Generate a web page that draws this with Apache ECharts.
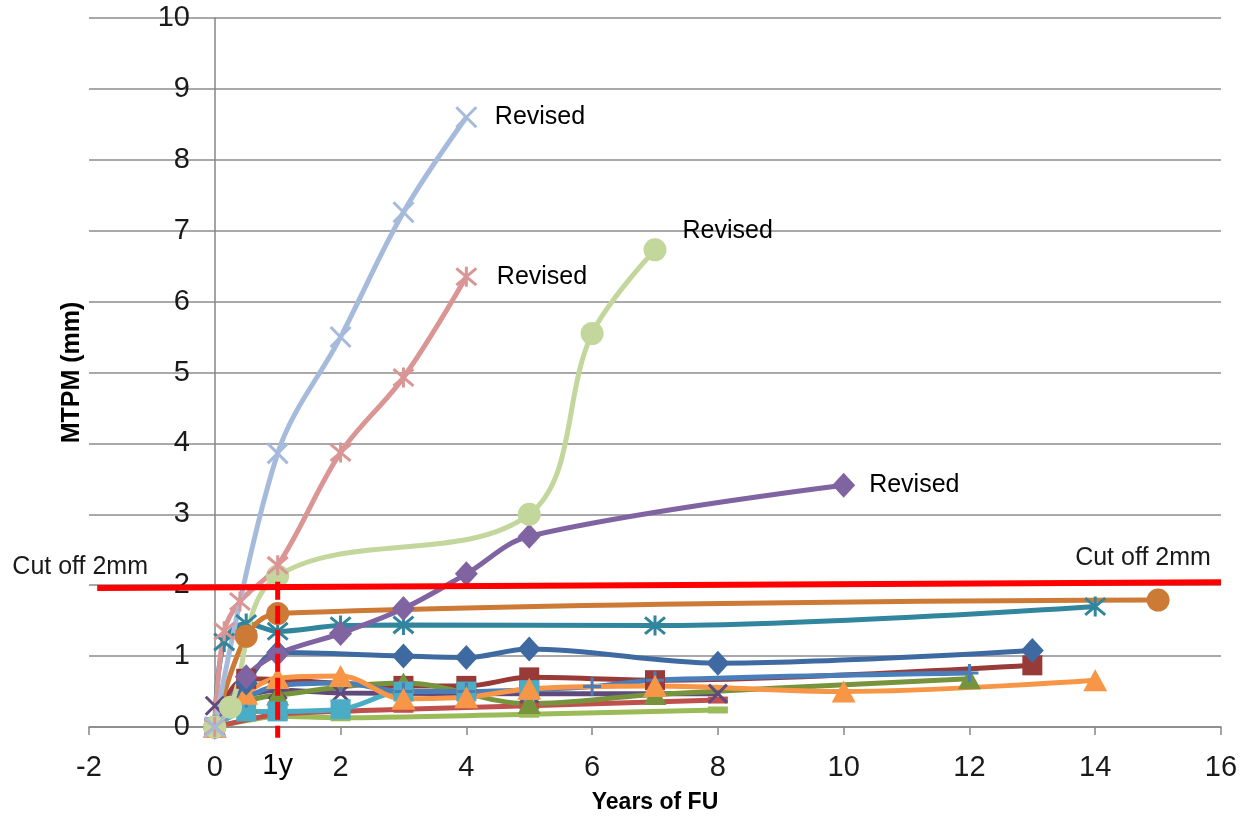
<!DOCTYPE html>
<html>
<head>
<meta charset="utf-8">
<script src="https://cdn.jsdelivr.net/npm/echarts@6/dist/echarts.min.js"></script>
<style>
  html, body { margin: 0; padding: 0; background: #ffffff; }
  #chart { width: 1256px; height: 818px; }
</style>
</head>
<body>
<div id="chart"></div>
<script>
// MTPM (mm) against years of follow-up, one line per implant
const lightBlueX      = [[0,0],[1,3.86],[2,5.5],[3,7.26],[4,8.6]];
const pinkStar        = [[0,0],[0.15,1.35],[0.4,1.77],[1,2.28],[2,3.87],[3,4.93],[4,6.35]];
const lightGreenCircle= [[0,0],[0.25,0.28],[1,2.13],[5,3.0],[6,5.55],[7,6.73]];
const purpleDiamond   = [[0,0],[0.5,0.71],[1,1.03],[2,1.32],[3,1.67],[4,2.16],[5,2.69],[10,3.41]];
const orangeCircle    = [[0,0],[0.5,1.28],[1,1.6],[15,1.79]];
const tealStar        = [[0,0],[0.15,1.2],[0.5,1.46],[1,1.35],[2,1.43],[3,1.44],[7,1.43],[14,1.7]];
const blueDiamond     = [[0,0],[0.5,0.62],[1,1.05],[3,1.0],[4,0.98],[5,1.1],[8,0.9],[13,1.08]];
const darkRedSquare   = [[0,0],[0.5,0.68],[3,0.58],[4,0.58],[5,0.7],[7,0.66],[13,0.87]];
const greenTriangle   = [[0,0],[0.5,0.35],[1,0.45],[3,0.62],[5,0.33],[7,0.46],[12,0.68]];
const cyanSquare      = [[0,0],[0.5,0.22],[1,0.22],[2,0.25],[3,0.5],[4,0.5],[5,0.52]];
const bluePlus        = [[0,0],[0.5,0.4],[1,0.58],[2,0.62],[3,0.5],[4,0.5],[6,0.57],[7,0.66],[12,0.76]];
const orangeTriangle  = [[0,0],[0.5,0.47],[1,0.69],[2,0.72],[3,0.4],[4,0.42],[5,0.54],[7,0.58],[10,0.5],[14,0.66]];
const purpleX         = [[0,0.3],[1,0.52],[2,0.48],[5,0.47],[8,0.47]];
const redLine         = [[0,0],[1,0.18],[3,0.25],[5,0.3],[8,0.38]];
const lightGreenLine  = [[0,0],[1,0.15],[2,0.13],[5,0.18],[8,0.24]];

// threshold line and the one-year marker
const cutOff   = [[-1.87,1.96],[16,2.04]];
const cutOffLabels = ['Cut off 2mm','Cut off 2mm'];
const oneYear  = [[1,2.05],[1,-0.15]];
const oneYearLabel = '1y';
const revisedLabel = 'Revised';

const FONT = "'Liberation Sans', Arial, sans-serif";
const X_PATH    = 'path://M0,0L10,10M10,0L0,10';
const STAR_PATH = 'path://M0,0L10,10M10,0L0,10M5,-1L5,11';
const PLUS_PATH = 'path://M5,0L5,10M0,5L10,5';

function withRevised(data, labelOpts) {
  return data.map((p, i) => i === data.length - 1
    ? { value: p, label: Object.assign({ show: true, formatter: revisedLabel,
        position: 'right', color: '#000', fontSize: 25, fontFamily: FONT }, labelOpts) }
    : p);
}

function line(name, data, color, symbol, size, extra) {
  const stroked = typeof symbol === 'string' && symbol.indexOf('path://') === 0;
  return Object.assign({
    name, type: 'line', data, smooth: 0.35,
    symbol, symbolSize: size,
    showAllSymbol: true,
    lineStyle: { color, width: 5 },
    itemStyle: stroked ? { color: 'rgba(0,0,0,0)', borderColor: color, borderWidth: 3 }
                       : { color, borderWidth: 0 },
    emphasis: { disabled: true },
    z: 2
  }, extra || {});
}

const series = [
  line('lightGreenLine', lightGreenLine, '#9BBB59', 'rect', [20, 7], { smooth: 0.2 }),
  line('redLine', redLine, '#C0504D', 'rect', [20, 7], { smooth: 0.2 }),
  line('purpleX', purpleX, '#604A7B', X_PATH, 18),
  line('darkRedSquare', darkRedSquare, '#983A37', 'rect', 20),
  line('greenTriangle', greenTriangle, '#77933C', 'triangle', [23, 21]),
  line('cyanSquare', cyanSquare, '#4BACC6', 'rect', 20),
  line('bluePlus', bluePlus, '#4A7EBB', PLUS_PATH, 18),
  line('orangeTriangle', orangeTriangle, '#F79646', 'triangle', [24, 22]),
  line('blueDiamond', blueDiamond, '#3F6AA1', 'diamond', [23, 25]),
  line('tealStar', tealStar, '#31859C', STAR_PATH, 20),
  line('orangeCircle', orangeCircle, '#CC7A36', 'circle', 23),
  line('purpleDiamond', withRevised(purpleDiamond, { distance: 14 }), '#8064A2', 'diamond', [23, 25]),
  line('lightGreenCircle', withRevised(lightGreenCircle, { distance: 16, offset: [0, -19] }), '#C3D69B', 'circle', 23),
  line('pinkStar', withRevised(pinkStar, { distance: 19 }), '#D99694', STAR_PATH, 20),
  line('lightBlueX', withRevised(lightBlueX, { distance: 17 }), '#A6BBDC', X_PATH, 20),
  {
    name: 'cutOff', type: 'line', smooth: false, z: 5,
    data: cutOff.map((p, i) => ({
      value: p,
      label: {
        show: true, formatter: cutOffLabels[i], position: 'top', distance: 5,
        offset: i === 0 ? [-17, -3] : [-78, -7],
        fontSize: 25, fontFamily: FONT, color: '#1a1a1a'
      }
    })),
    symbol: 'circle', symbolSize: 0.1,
    lineStyle: { color: '#FF0000', width: 6 },
    itemStyle: { color: '#FF0000' },
    emphasis: { disabled: true },
    clip: false
  },
  {
    name: 'oneYear', type: 'line', z: 6, clip: false,
    data: oneYear.map((p, i) => i === oneYear.length - 1
      ? { value: p, label: { show: true, formatter: oneYearLabel, position: 'bottom', distance: 14,
          fontSize: 29, fontFamily: FONT, color: '#000' } }
      : p),
    symbol: 'circle', symbolSize: 0.1,
    lineStyle: { color: '#FF0000', width: 5, type: [18, 6] },
    itemStyle: { color: '#FF0000' },
    emphasis: { disabled: true }
  }
];

const chart = echarts.init(document.getElementById('chart'), null, { renderer: 'canvas' });
chart.setOption({
  animation: false,
  backgroundColor: '#ffffff',
  grid: { left: 89, right: 35, top: 18, bottom: 91, containLabel: false, outerBoundsMode: 'none' },
  xAxis: {
    type: 'value', min: -2, max: 16, interval: 2,
    name: 'Years of FU', nameLocation: 'middle', nameGap: 64,
    nameTextStyle: { fontFamily: FONT, fontSize: 23, fontWeight: 'bold', color: '#000' },
    axisLine: { onZero: false, lineStyle: { color: '#868686', width: 1.5 } },
    axisTick: { show: true, length: 8, lineStyle: { color: '#868686', width: 1.5 } },
    axisLabel: { fontFamily: FONT, fontSize: 29, color: '#1a1a1a', margin: 26 },
    splitLine: { show: false }
  },
  yAxis: {
    type: 'value', min: 0, max: 10, interval: 1,
    name: 'MTPM (mm)', nameLocation: 'middle', nameGap: 4, nameRotate: 90,
    nameTextStyle: { fontFamily: FONT, fontSize: 25, fontWeight: 'bold', color: '#000' },
    axisLine: { show: true, onZero: true, lineStyle: { color: '#868686', width: 1.5 } },
    axisTick: { show: false },
    // labels sit just left of the zero line rather than at the grid edge
    axisLabel: { fontFamily: FONT, fontSize: 29, color: '#1a1a1a', margin: -101 },
    splitLine: { show: true, lineStyle: { color: '#8C8C8C', width: 1.5 } }
  },
  series
});
</script>
</body>
</html>
